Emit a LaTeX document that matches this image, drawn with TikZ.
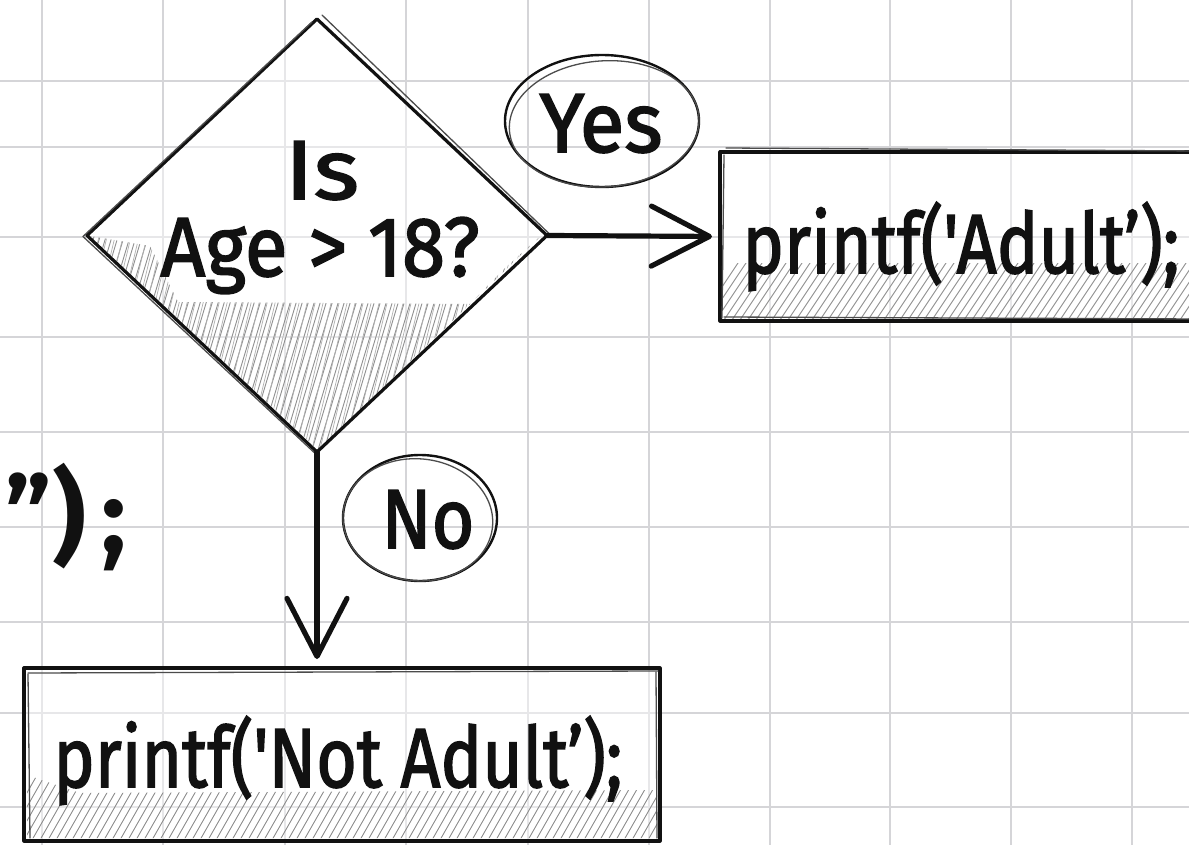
\documentclass[tikz,border=0pt]{standalone}
\usepackage{fontspec}
\setmainfont{Fira Sans}[Ligatures=TeXOff]
\newfontfamily\hand{Fira Sans}[Ligatures=TeXOff, FakeBold=2]
\usetikzlibrary{shapes.geometric,arrows.meta}
\definecolor{gridc}{HTML}{D5D5D8}
\definecolor{ink}{HTML}{111111}
\definecolor{hatchc}{HTML}{8E8E8E}
\newcommand{\wfit}[2]{\resizebox{#1}{\height}{#2}}
\tikzset{
  gridline/.style={draw=gridc, line width=1.8pt},
  sketch/.style={draw=ink, line width=3.2pt, line join=round, line cap=round},
  sketchthin/.style={draw=ink!75, line width=1.3pt, line join=round, line cap=round},
  hatchline/.style={draw=hatchc, line width=0.9pt},
  hatchlight/.style={draw=hatchc!70, line width=0.7pt},
  flow/.style={draw=ink, line width=5.2pt, line cap=round,
    -{Straight Barb[length=58pt,width=60pt,line width=5.2pt,round]}},
  lbl/.style={inner sep=0pt, outer sep=0pt, anchor=base, text=ink,
    font=\hand\fontsize{84}{88}\selectfont},
  blank/.style={inner sep=0pt, outer sep=0pt},
  paper/.style={fill=white, fill opacity=0.45},
}
\begin{document}
\begin{tikzpicture}[x=1pt,y=-1pt]
\useasboundingbox (0,0) rectangle (1189,845);
\fill[white] (0,0) rectangle (1189,845);
\clip (0,0) rectangle (1189,845);
% grid paper
\foreach \gx in {42,163,285,406,528,649,770,890,1011,1132}
  \draw[gridline] (\gx,0) -- (\gx,845);
\foreach \gy in {81,147,237,337,432,527,622,713,807}
  \draw[gridline] (0,\gy) -- (1189,\gy);

% ---------- decision diamond ----------
\node[diamond, blank, paper, minimum width=460pt, minimum height=433pt] (dec) at (317,235.5) {};
\begin{scope}
  \clip (90,236) -- (150,246) -- (178,302) -- (470,304) -- (505,268) -- (543,234) -- (318,450) -- cycle;
  \foreach \hx in {0,6,...,640} \draw[hatchline] (\hx,470) -- ++(75,-250);
  \foreach \hx in {3,11,...,640} \draw[hatchlight] (\hx,470) -- ++(60,-250);
\end{scope}
\draw[sketch] (dec.north) -- (dec.east) -- (dec.south) -- (dec.west) -- cycle;
\draw[sketchthin] ([shift={(-5,3)}]dec.north) -- ([shift={(-4,1)}]dec.west) -- ([shift={(2,5)}]dec.south);
\draw[sketchthin] ([shift={(5,-4)}]dec.north) -- ([shift={(3,-1)}]dec.east);
\node[lbl] (istxt) at (322,199) {\wfit{74pt}{Is}};
\node[lbl] (agetxt) at (320,276) {\wfit{319pt}{Age > 18?}};

% ---------- Yes label ----------
\node[ellipse, blank, minimum width=194pt, minimum height=132pt] (yes) at (602,121) {};
\draw[sketch, line width=2.4pt] (yes.center) ellipse [x radius=97, y radius=66];
\draw[sketchthin, rotate around={4:(yes.center)}] ([shift={(2,3)}]yes.center) ellipse [x radius=95, y radius=63];
\node[lbl] (yestxt) at (601,152) {\wfit{123pt}{Yes}};

% ---------- Adult box ----------
\node[rectangle, blank, paper, minimum width=480pt, minimum height=169pt] (adult) at (960,236.5) {};
\begin{scope}
  \clip (723,264) rectangle (1189,318);
  \foreach \hx in {700,708,...,1200} \draw[hatchline] (\hx,320) -- ++(40,-60);
\end{scope}
\draw[sketch] (adult.north west) rectangle (adult.south east);
\draw[sketchthin] ([shift={(6,-4)}]adult.north west) -- ([shift={(0,-1)}]adult.north east);
\draw[sketchthin] ([shift={(4,-4)}]adult.south west) -- ([shift={(0,-2)}]adult.south east);
\draw[sketchthin] ([shift={(4,3)}]adult.north west) -- ([shift={(2,-3)}]adult.south west);
\node[lbl] (adulttxt) at (961,273) {\wfit{437pt}{printf('Adult’);}};

% ---------- No label ----------
\node[ellipse, blank, minimum width=154pt, minimum height=126pt] (no) at (420,518) {};
\draw[sketch, line width=2.4pt] (no.center) ellipse [x radius=77, y radius=63];
\draw[sketchthin, rotate around={-5:(no.center)}] ([shift={(-2,2)}]no.center) ellipse [x radius=75, y radius=61];
\node[lbl] (notxt) at (428,548) {\wfit{93pt}{No}};

% ---------- Not Adult box ----------
\node[rectangle, blank, paper, minimum width=636pt, minimum height=173pt] (nadult) at (342,754.5) {};
\begin{scope}
  \clip (27,775) -- (80,793) -- (657,790) -- (657,838) -- (27,838) -- cycle;
  \foreach \hx in {0,8,...,700} \draw[hatchline] (\hx,840) -- ++(40,-70);
\end{scope}
\draw[sketch] (nadult.north west) rectangle (nadult.south east);
\draw[sketchthin] ([shift={(4,5)}]nadult.north west) -- ([shift={(-2,3)}]nadult.north east);
\draw[sketchthin] ([shift={(4,6)}]nadult.north west) -- ([shift={(6,-3)}]nadult.south west);
\draw[sketchthin] ([shift={(-4,4)}]nadult.north east) -- ([shift={(-3,-3)}]nadult.south east);
\node[lbl] (nadulttxt) at (338,787) {\wfit{569pt}{printf('Not Adult’);}};

% ---------- cut-off fragment at left ----------
\node[lbl, anchor=base east, font=\bfseries\fontsize{104}{104}\selectfont] (frag) at (127,552) {”)\hspace{16pt};};

% ---------- connectors ----------
\draw[flow, shorten >=8pt] (dec.east) -- (adult.west);
\draw[flow, shorten >=9pt] (dec.south) -- (dec.south |- nadult.north);
\end{tikzpicture}
\end{document}
